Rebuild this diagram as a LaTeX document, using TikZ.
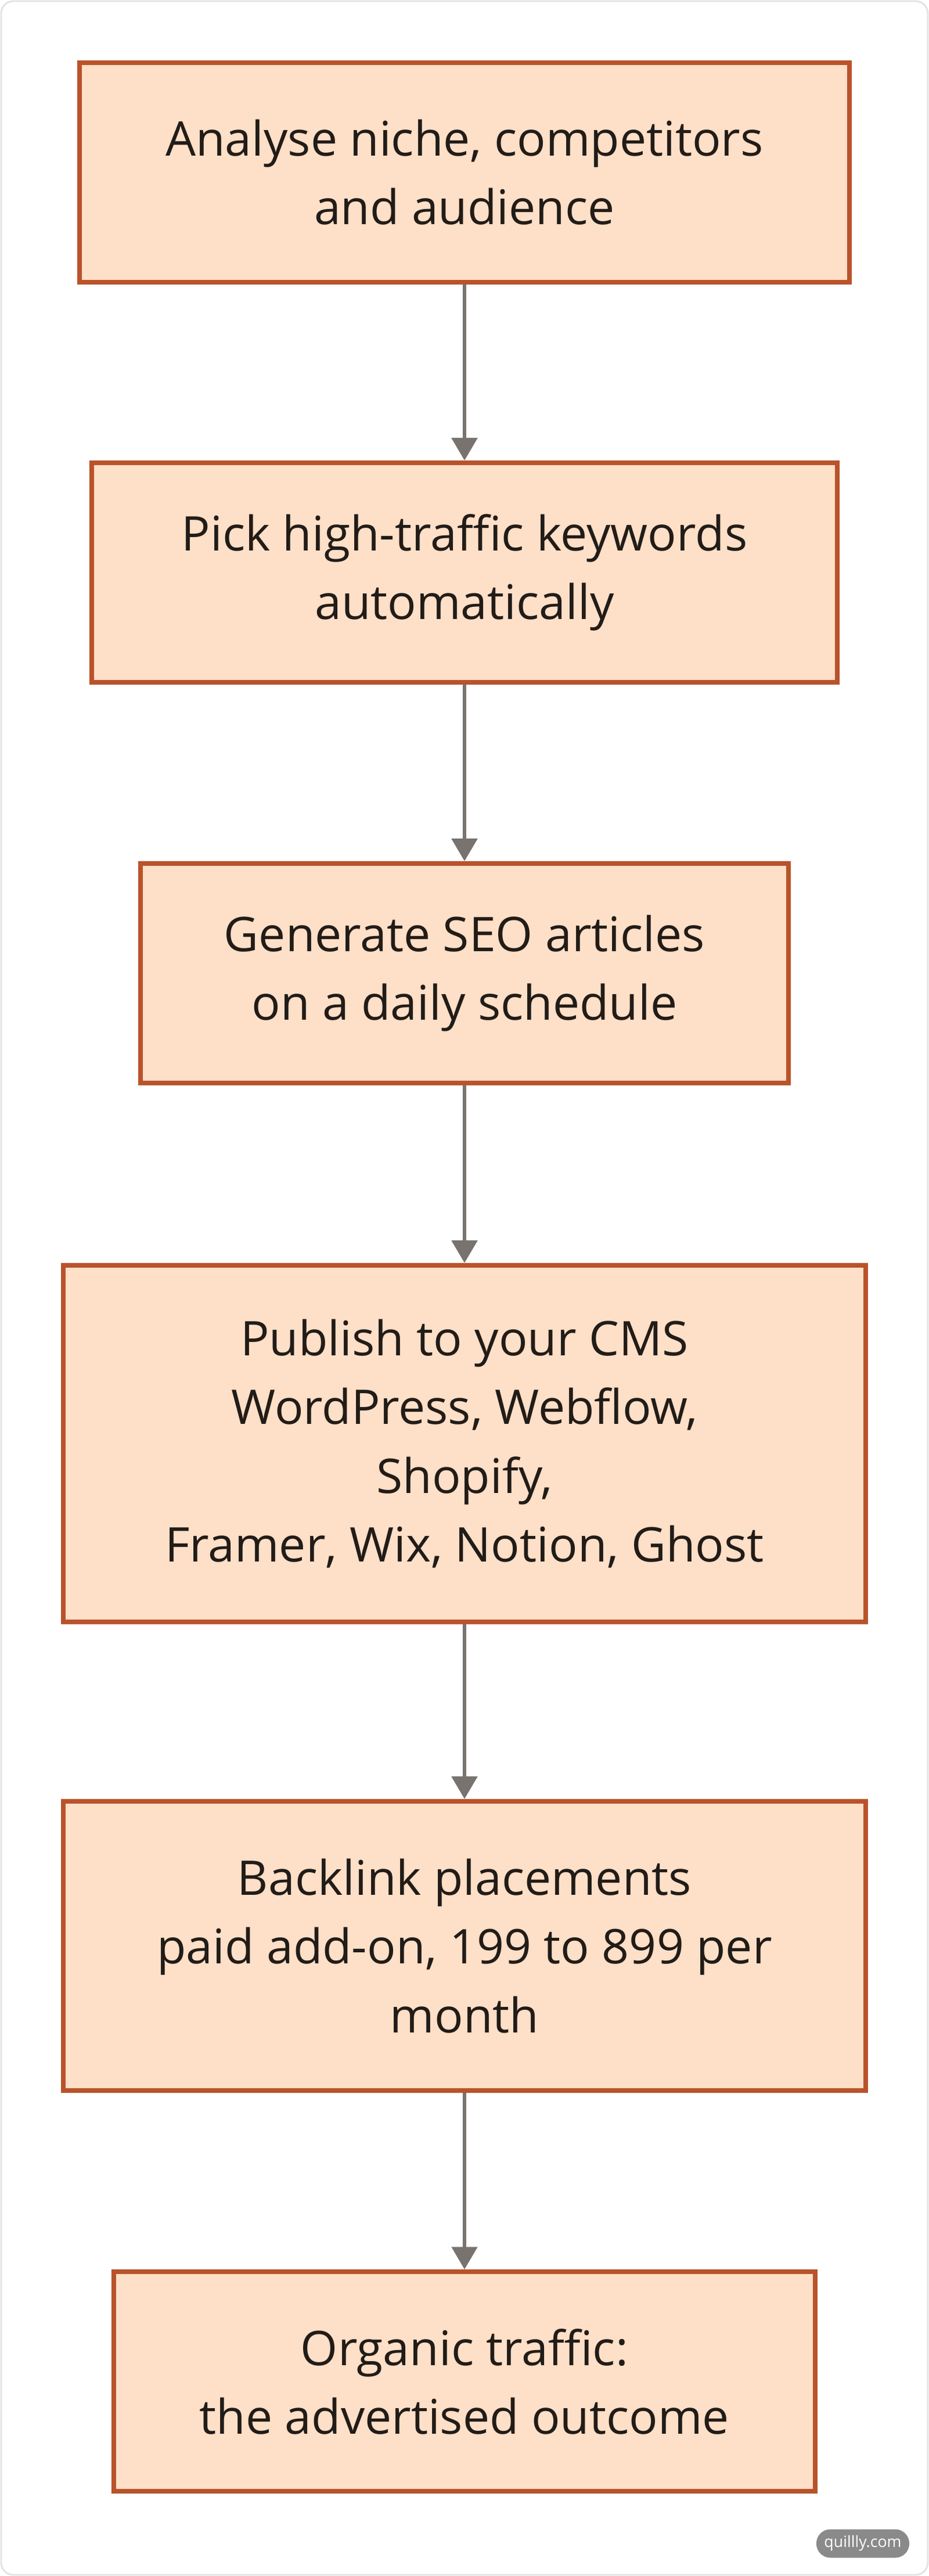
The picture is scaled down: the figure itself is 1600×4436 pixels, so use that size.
\documentclass[tikz,border=0pt]{standalone}
\usepackage{fontspec}
\setmainfont{Open Sans}
\usetikzlibrary{arrows.meta}
\definecolor{boxfill}{HTML}{FEDFC7}
\definecolor{boxline}{HTML}{B9532B}
\definecolor{flowgray}{HTML}{78736E}
\definecolor{inktext}{HTML}{221C18}
\definecolor{framegray}{HTML}{E2E2E2}
\definecolor{badgegray}{HTML}{8A8A8A}
\begin{document}
\begin{tikzpicture}[x=0.01cm,y=-0.01cm]
	\tikzset{stepbox/.style={draw=boxline,fill=boxfill,line width=0.08cm,text=inktext,align=center,
			font=\fontsize{23.4}{33.6}\selectfont,minimum height=3.78cm},
		flow/.style={draw=flowgray,line width=1.5pt,-{Triangle[length=11pt,width=12.5pt]}}}
	\useasboundingbox(0,0)rectangle(1600,4436);
	\draw[framegray,line width=0.8pt,rounded corners=6pt](2,2)rectangle(1598,4434);
	\node[stepbox,minimum width=13.25cm](analyse)at(800,297){Analyse niche, competitors\\and audience};
	\node[stepbox,minimum width=12.84cm](pick)at(800,986){Pick high-traffic keywords\\automatically};
	\node[stepbox,minimum width=11.15cm](generate)at(800,1676){Generate SEO articles\\on a daily schedule};
	\node[stepbox,minimum width=13.82cm,minimum height=6.14cm](publish)at(800,2486){Publish to your CMS\\WordPress, Webflow,\\Shopify,\\Framer, Wix, Notion, Ghost};
	\node[stepbox,minimum width=13.82cm,minimum height=4.98cm](backlink)at(800,3351){Backlink placements\\paid add-on, 199 to 899 per\\month};
	\node[stepbox,minimum width=12.08cm](organic)at(800,4101){Organic traffic:\\the advertised outcome};
	\foreach \a/\b in{analyse/pick,pick/generate,generate/publish,publish/backlink,backlink/organic}
	\draw[flow](\a)--(\b);
	\node[fill=badgegray,text=white,rounded corners=6.9pt,minimum width=1.6cm,minimum height=0.49cm,inner sep=0pt,
		font=\fontsize{7.6}{8}\selectfont](badge)at(1486,4380){quillly.com};
\end{tikzpicture}
\end{document}
